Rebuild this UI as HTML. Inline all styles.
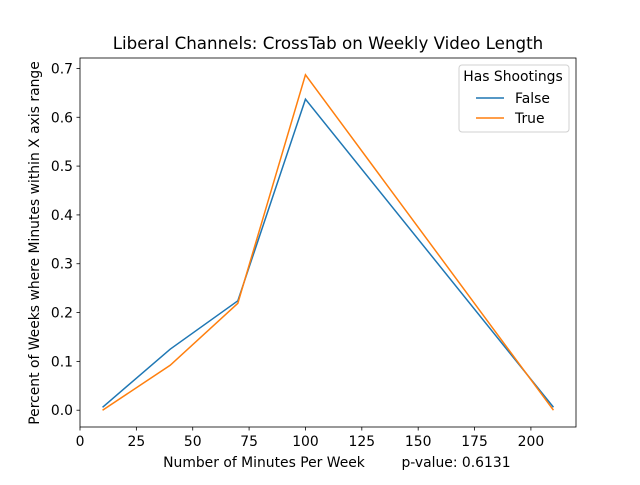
<!DOCTYPE html>
<html><head><meta charset="utf-8"><style>
body{margin:0;background:#fff;}
svg text{font-family:"DejaVu Sans","Liberation Sans",sans-serif;fill:#000;}
</style></head><body>
<svg id="chart" width="640" height="480" xmlns="http://www.w3.org/2000/svg">
<rect width="640" height="480" fill="#fff"/>
<text x="328" y="49" font-size="16.7" text-anchor="middle">Liberal Channels: CrossTab on Weekly Video Length</text>
<g id="axes"></g>
<g id="series"></g>
<rect x="80" y="58" width="496" height="369" fill="none" stroke="#000" stroke-width="0.8"/>
<text x="264" y="467" font-size="13.9" text-anchor="middle">Number of Minutes Per Week</text>
<text x="456" y="467" font-size="13.9" text-anchor="middle">p-value: 0.6131</text>
<text transform="translate(39,243) rotate(-90)" font-size="13.9" text-anchor="middle">Percent of Weeks where Minutes within X axis range</text>
<g>
<rect x="459" y="65" width="110" height="67" rx="3" fill="#fff" stroke="#ccc" stroke-width="1" opacity="0.9"/>
<text x="513" y="81" font-size="13.9" text-anchor="middle">Has Shootings</text>
<line x1="476" y1="98" x2="504" y2="98" stroke="#1f77b4" stroke-width="1.5"/>
<text x="515" y="103" font-size="13.9">False</text>
<line x1="476" y1="118" x2="504" y2="118" stroke="#ff7f0e" stroke-width="1.5"/>
<text x="515" y="123" font-size="13.9">True</text>
</g>
</svg>
<script>
const categories=[10,40,70,100,210];
const seriesFalse=[0.006,0.125,0.224,0.637,0.006];
const seriesTrue=[0.0,0.092,0.219,0.687,0.0];
const xTicks=[0,25,50,75,100,125,150,175,200];
const yTicks=[0,0.1,0.2,0.3,0.4,0.5,0.6,0.7];
const L=80,R=576,T=58,B=427;
const xmin=0,xmax=220,ymin=-0.0344,ymax=0.7214;
function sx(v){return L+(v-xmin)/(xmax-xmin)*(R-L);}
function sy(v){return B-(v-ymin)/(ymax-ymin)*(B-T);}
const NS="http://www.w3.org/2000/svg";
const ax=document.getElementById('axes');
function mk(tag,attrs,parent){const e=document.createElementNS(NS,tag);for(const k in attrs)e.setAttribute(k,attrs[k]);parent.appendChild(e);return e;}
xTicks.forEach(t=>{
 const l=mk('line',{x1:sx(t),x2:sx(t),y1:B,y2:B+3.5,stroke:'#000','stroke-width':0.8},ax);
 
 
 const tx=mk('text',{x:sx(t),y:B+19,'font-size':13.9,'text-anchor':'middle'},ax);
 tx.textContent=t;
 
 
});
yTicks.forEach(t=>{
 const l=mk('line',{x1:L-3.5,x2:L,y1:sy(t),y2:sy(t),stroke:'#000','stroke-width':0.8},ax);
 
 
 const tx=mk('text',{x:L-7,y:sy(t)+5,'font-size':13.9,'text-anchor':'end'},ax);
 tx.textContent=t.toFixed(1);
 
 
});
const sg=document.getElementById('series');
[[seriesFalse,'#1f77b4','line-false'],[seriesTrue,'#ff7f0e','line-true']].forEach(([d,c,n])=>{
 const p=mk('polyline',{points:categories.map((x,i)=>sx(x)+','+sy(d[i])).join(' '),fill:'none',stroke:c,'stroke-width':1.5},sg);
 
 
});
</script>
</body></html>
